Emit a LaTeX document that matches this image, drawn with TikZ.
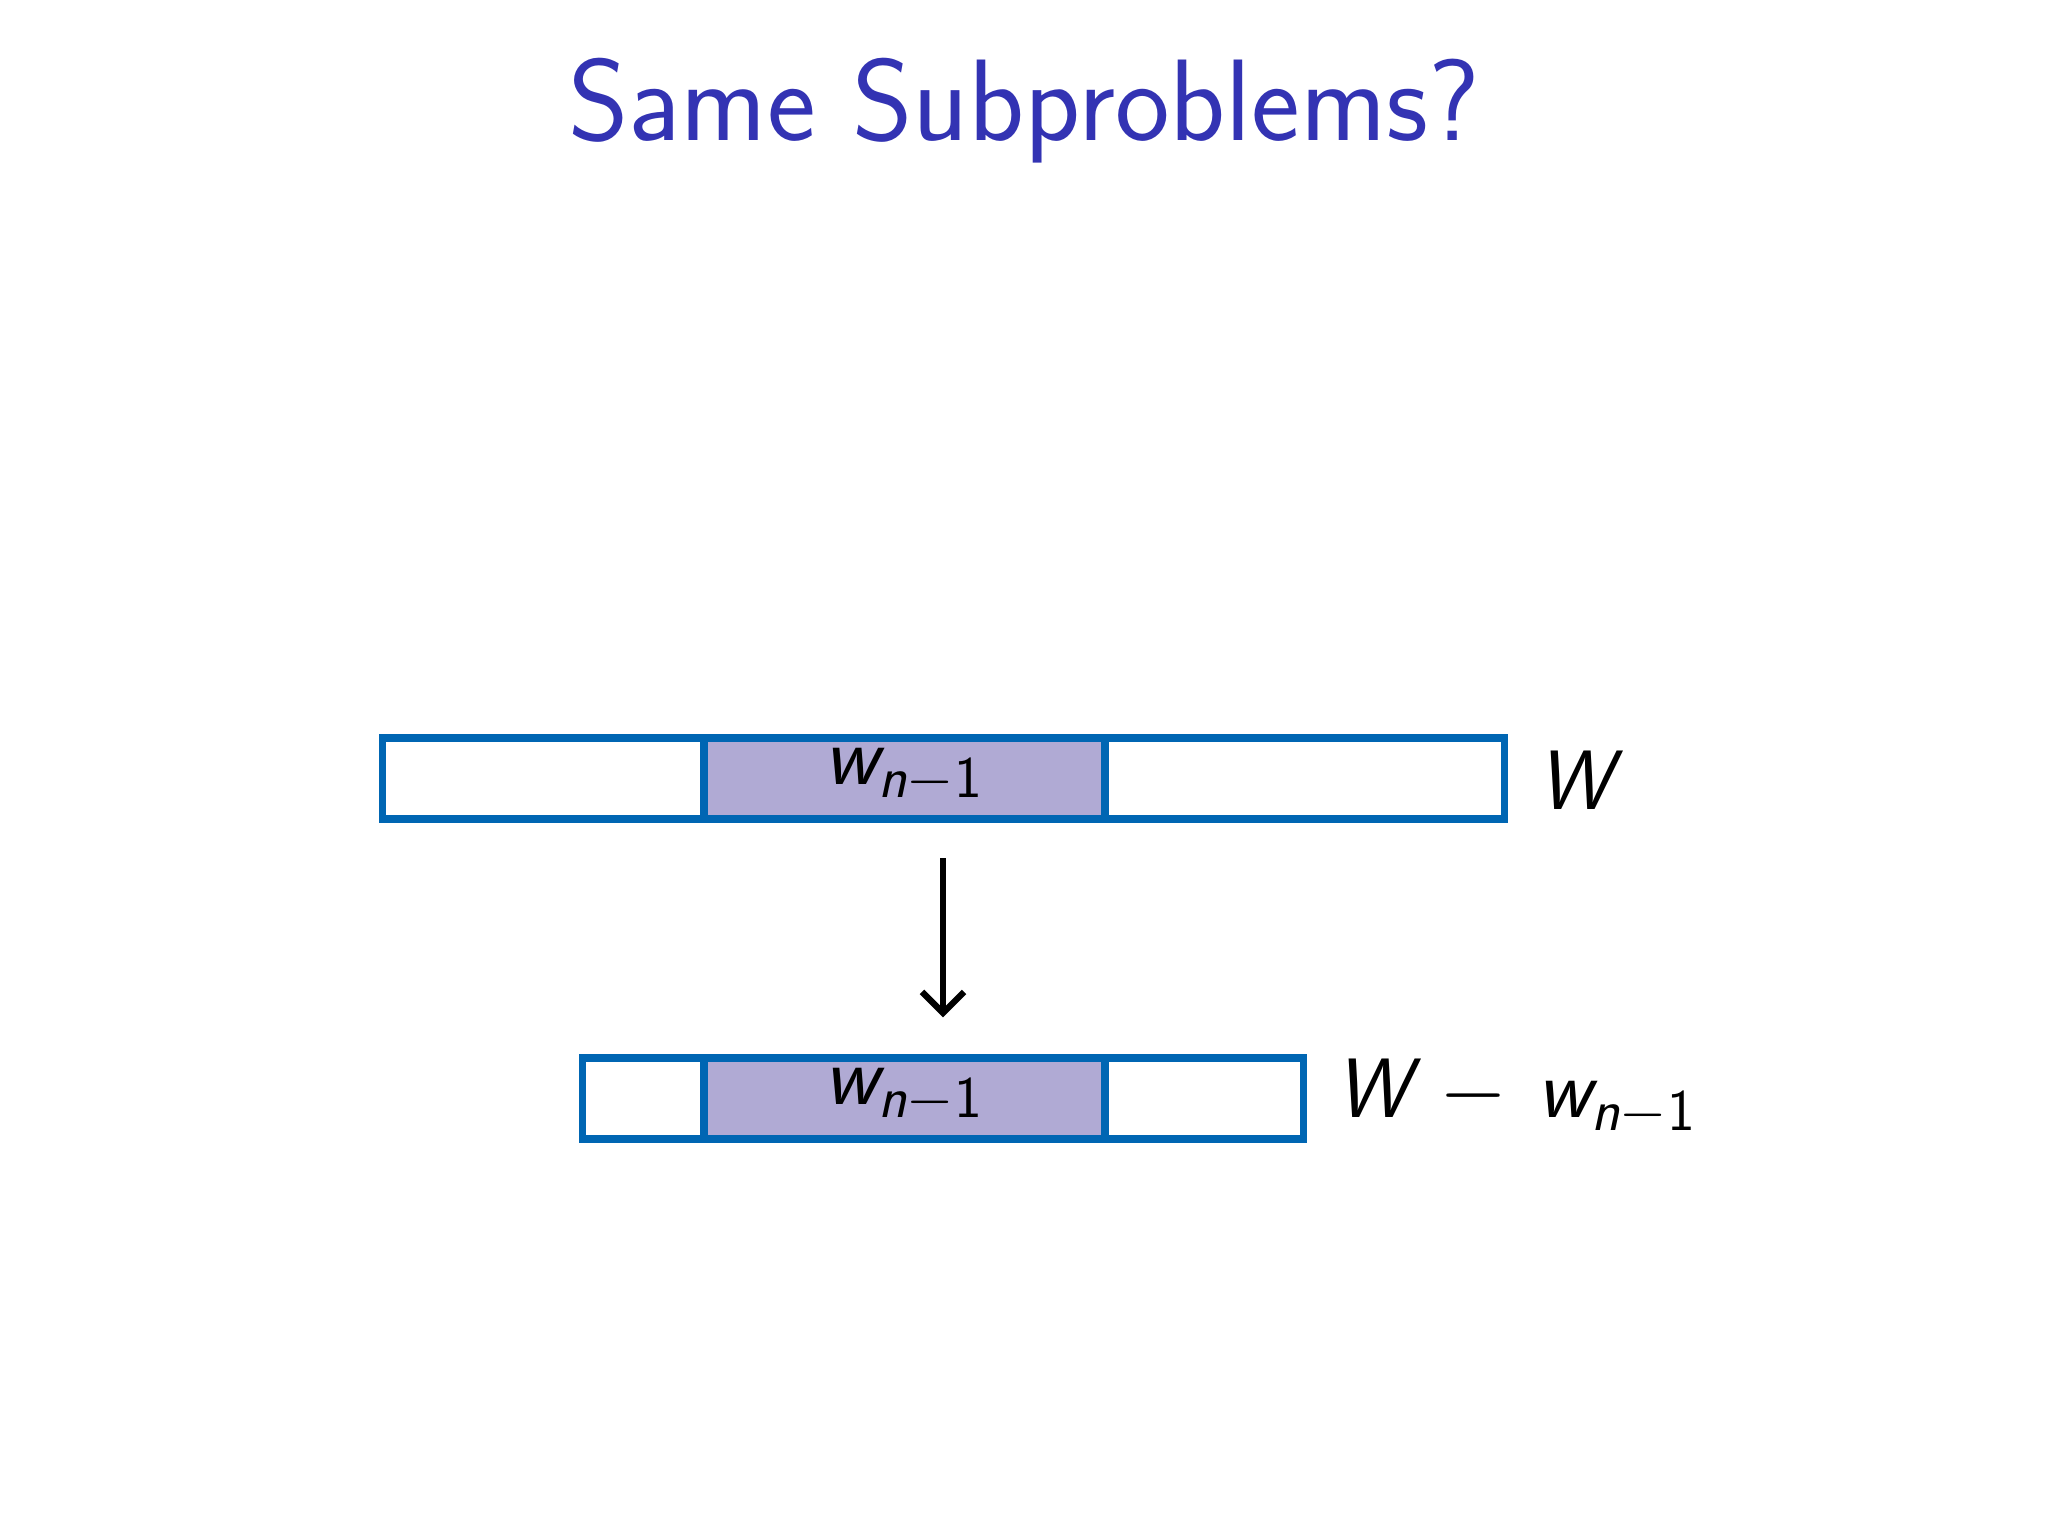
\documentclass[tikz,border=0pt]{standalone}
\usepackage{tikz}
\usetikzlibrary{arrows.meta}
\definecolor{titleblue}{RGB}{51,51,179}
\definecolor{barblue}{RGB}{0,102,179}
\definecolor{barfill}{RGB}{176,170,212}
\newcommand{\wlab}{{\sffamily\itshape w}\textsubscript{\sffamily\itshape n\upshape$-$1}}
\begin{document}
\begin{tikzpicture}[x=0.01306cm,y=-0.01306cm,
  bar/.style={draw=barblue,line width=2.1pt},
  lab/.style={font=\fontsize{24}{28}\selectfont}]
\useasboundingbox (0,0) rectangle (1568,1176);
\node[font=\fontsize{33}{38}\selectfont\sffamily,text=titleblue] (t) at (784,85) {Same Subproblems?};
% top bar
\fill[barfill] (539,565) rectangle (846,627);
\draw[bar] (293,565) rectangle (1152,627);
\draw[bar] (539,565) -- (539,627) (846,565) -- (846,627);
\node[lab] (a) at (692,594) {\wlab};
\node[lab,anchor=west] (W) at (1168,597) {\sffamily\itshape W};
% bottom bar
\fill[barfill] (539,810) rectangle (846,872);
\draw[bar] (446,810) rectangle (998,872);
\draw[bar] (539,810) -- (539,872) (846,810) -- (846,872);
\node[lab] (b) at (692,839) {\wlab};
\node[lab,anchor=west] (W2) at (1013,840) {{\sffamily\itshape W}\hspace{0.35em}$-$\hspace{0.35em}\wlab};
\coordinate (s) at (722,657); \coordinate (e) at (722,779);
\draw[line width=1.8pt,-{Straight Barb[length=6pt]}] (s) -- (e);
\end{tikzpicture}
\end{document}
